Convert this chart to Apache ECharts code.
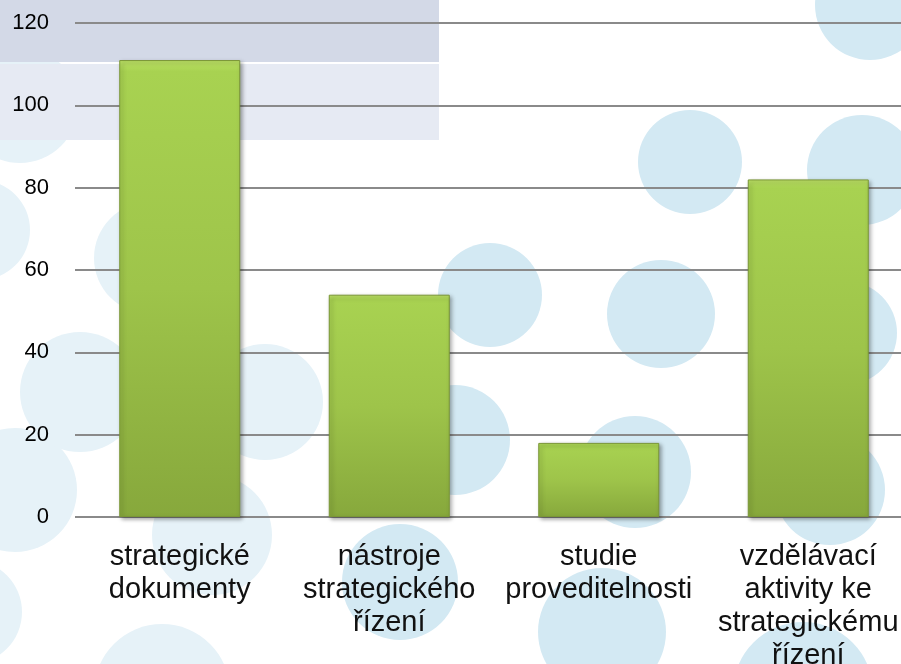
<!DOCTYPE html>
<html>
<head>
<meta charset="utf-8">
<title>Strategické řízení</title>
<script src="https://cdn.jsdelivr.net/npm/echarts@6/dist/echarts.min.js"></script>
<style>
	html, body {margin: 0; padding: 0; background: #fff;}
	#chart {width: 901px; height: 664px;}
</style>
</head>
<body>
<div id="chart"></div>
<script type="text/javascript">
	// data
	var categories = [
		'strategické\ndokumenty',
		'nástroje\nstrategického\nřízení',
		'studie\nproveditelnosti',
		'vzdělávací\naktivity ke\nstrategickému\nřízení'
	];
	var values = [111, 54, 18, 82];
	var yMin = 0;
	var yMax = 120;
	var yStep = 20;

	// background spots [x, y, r, strong]
	var spots = [
		[870, 5, 55, 1], [690, 162, 52, 1], [862, 170, 55, 1], [490, 295, 52, 1],
		[661, 314, 54, 1], [845, 333, 52, 1], [830, 490, 55, 1], [635, 472, 56, 1],
		[455, 440, 55, 1], [602, 632, 64, 1], [803, 692, 70, 1], [400, 582, 58, 1],
		[212, 535, 60, 0], [162, 692, 68, 0], [15, 490, 62, 0], [-30, 612, 52, 0],
		[265, 402, 58, 0], [80, 392, 60, 0], [150, 258, 56, 0], [-20, 230, 50, 0],
		[20, 105, 58, 0]
	];
	var graphics = [];
	spots.forEach(function(s){
		graphics.push({
			type: 'circle',
			z: -20,
			silent: true,
			shape: {cx: s[0], cy: s[1], r: s[2]},
			style: {fill: s[3] ? '#d3e9f3' : '#e6f2f8'}
		});
	});
	// header bands top left
	graphics.push({type: 'rect', z: -10, silent: true, shape: {x: 0, y: 0, width: 439, height: 62}, style: {fill: '#d3d9e7'}});
	graphics.push({type: 'rect', z: -10, silent: true, shape: {x: 0, y: 64, width: 439, height: 76}, style: {fill: '#e6eaf3'}});

	var myChart = echarts.init(document.getElementById('chart'));
	var option = {
		animation: false,
		graphic: {elements: graphics},
		grid: {
			left: 75,
			top: 23,
			width: 838,
			height: 494,
			containLabel: false,
			outerBoundsMode: 'none'
		},
		xAxis: {
			type: 'category',
			data: categories,
			axisLine: {show: false},
			axisTick: {show: false},
			axisLabel: {
				interval: 0,
				margin: 23,
				fontFamily: 'Liberation Sans, Arial, sans-serif',
				fontSize: 29,
				lineHeight: 33,
				color: '#111'
			}
		},
		yAxis: {
			type: 'value',
			min: yMin,
			max: yMax,
			interval: yStep,
			axisLine: {show: false},
			axisTick: {show: false},
			axisLabel: {
				margin: 26,
				fontFamily: 'Liberation Sans, Arial, sans-serif',
				fontSize: 22,
				color: '#000'
			},
			splitLine: {
				lineStyle: {color: '#8a8a8a', width: 2}
			}
		},
		series: [{
			type: 'bar',
			data: values,
			barWidth: 121,
			itemStyle: {
				color: {
					type: 'linear', x: 0, y: 0, x2: 0, y2: 1,
					colorStops: [
						{offset: 0, color: '#bde266'},
						{offset: 0.025, color: '#a8d251'},
						{offset: 0.5, color: '#9ec44a'},
						{offset: 1, color: '#87a83c'}
					]
				},
				borderColor: '#7a9636',
				borderWidth: 1,
				shadowColor: 'rgba(0, 0, 0, 0.35)',
				shadowBlur: 4,
				shadowOffsetX: 2,
				shadowOffsetY: 2
			}
		}]
	};
	myChart.setOption(option);
</script>
</body>
</html>
